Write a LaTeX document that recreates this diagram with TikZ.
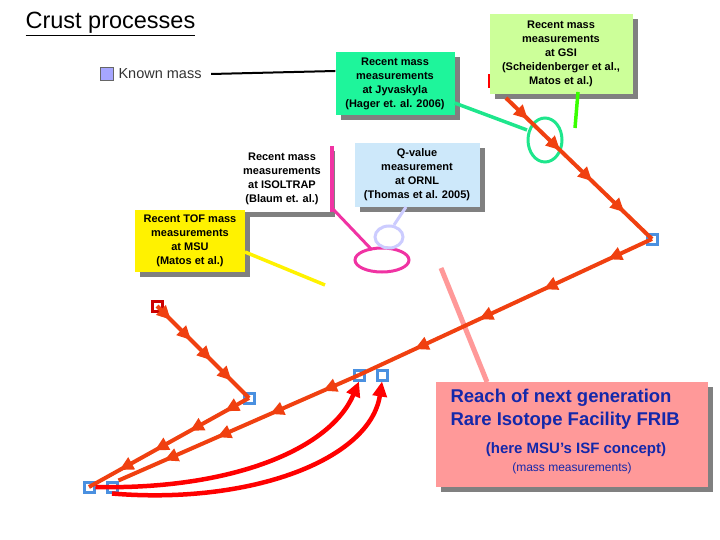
\documentclass[tikz,border=0pt]{standalone}
\usepackage{fontspec}
\setmainfont{Liberation Sans}
\usetikzlibrary{decorations.markings,arrows.meta,shadows}
\definecolor{rr}{HTML}{F04010}
\definecolor{bl}{HTML}{4A90E0}
\definecolor{jg}{RGB}{30,245,155}
\definecolor{jl}{RGB}{30,230,140}
\definecolor{gg}{RGB}{204,255,153}
\definecolor{qb}{RGB}{205,232,250}
\definecolor{pk}{RGB}{255,153,153}
\definecolor{nv}{RGB}{20,40,170}
\tikzset{
 chain/.style={rr,line width=4pt,postaction={decorate},decoration={markings,
   mark=between positions 0.15 and 0.95 step 0.22 with {\arrow{Triangle[length=14pt,width=13pt]}}}},
 box/.style={draw=none,align=center,font=\fontsize{11}{14}\selectfont\bfseries,inner sep=2pt,
   drop shadow={shadow xshift=5pt,shadow yshift=-5pt,fill=gray,opacity=1}},
 sq/.style={draw=bl,line width=3pt,minimum size=10pt,inner sep=0pt,fill=white},
 bigarr/.style={red,line width=4.5pt,-{Triangle[length=15pt,width=14pt]}}
}
\begin{document}
\begin{tikzpicture}[x=1pt,y=-1pt]
\useasboundingbox (0,0) rectangle (720,540);
\node[anchor=west,font=\fontsize{23.5}{26}\selectfont] (title) at (22,24) {\underline{Crust processes}};
\node[draw=black!60,fill=blue!35,minimum size=13pt,inner sep=0] (km) at (107,74) {};
\node[anchor=west,font=\fontsize{14.5}{16}\selectfont,text=black!80] (kmt) at (115,74) {Known mass};
% boxes
\node[box,fill=white,minimum width=95pt,minimum height=66pt] (iso) at (282,179) {Recent mass\\measurements\\at ISOLTRAP\\(Blaum et. al.)};
\draw[magenta!80,line width=4pt] (332,146) -- (332,212);
\node[box,fill=jg,minimum width=119pt,minimum height=63pt] (jyv) at (395,84) {Recent mass\\measurements\\at Jyvaskyla\\(Hager et. al. 2006)};
\draw[red,line width=3pt] (489,74) -- (489,88);
\node[box,fill=gg,minimum width=143pt,minimum height=80pt] (gsi) at (561,54) {Recent mass\\measurements\\at GSI\\(Scheidenberger et al.,\\Matos et al.)};
\node[box,fill=qb,minimum width=125pt,minimum height=64pt] (qv) at (417,175) {Q-value\\measurement\\at ORNL\\(Thomas et al. 2005)};
\node[box,fill=yellow,minimum width=110pt,minimum height=62pt] (tof) at (190,241) {Recent TOF mass\\measurements\\at MSU\\(Matos et al.)};
\node[box,fill=pk,minimum width=272pt,minimum height=105pt] (frib) at (572,434) {};
\node[anchor=north west,align=left,font=\fontsize{18.5}{23}\selectfont\bfseries,text=nv] (fribt) at (447,386) {Reach of next generation\\Rare Isotope Facility FRIB};
\node[font=\fontsize{15}{17}\selectfont\bfseries,text=nv] (fribs) at (576,450) {(here MSU’s ISF concept)};
\node[font=\fontsize{12}{14}\selectfont,text=nv] (fribm) at (572,468) {(mass measurements)};
% pointers
\draw[black,line width=2pt] (kmt.east) ++(6,0) coordinate (k1) -- (jyv.west|-0,71);
\draw[jl,line width=3.5pt] (jyv.east|-0,103) -- (527,130);
\draw[jl,line width=3pt] (545,140) ellipse (17 and 22);
\draw[green!70!lime,line width=3.5pt] (578,92) -- (575,128);
\draw[magenta!80,line width=3pt] (332,208) -- (372,250);
\draw[magenta!80,line width=3pt] (382,260) ellipse (27 and 12);
\draw[blue!20,line width=3pt] (406,207) -- (394,225);
\draw[blue!20,line width=3pt] (389,237) ellipse (14 and 11);
\draw[yellow,line width=3.5pt] (245,252) -- (325,285);
\draw[red!40,line width=5pt] (441,268) -- (487,382);
% squares
\node[sq] (a) at (652,239) {};
\node[sq] (b) at (359,375) {};
\node[sq] (c) at (382,375) {};
\node[sq] (d) at (249,398) {};
\node[sq] (e) at (89,487) {};
\node[sq] (f) at (112,487) {};
\node[sq,draw=red!80!black] (g) at (157,306) {};
\coordinate (s) at (506,98);
% chains
\draw[chain] (s) -- (a.center);
\draw[chain] (a.center) -- (b.center);
\draw[chain] (b.center) -- (f.north east);
\draw[chain] (g.center) -- (d.center);
\draw[chain] (d.center) -- (e.center);
\draw[bigarr] (e.east) .. controls (230,490) and (330,450) .. (b.south);
\draw[bigarr] (f.south) .. controls (250,505) and (370,460) .. (c.south);
\end{tikzpicture}
\end{document}
